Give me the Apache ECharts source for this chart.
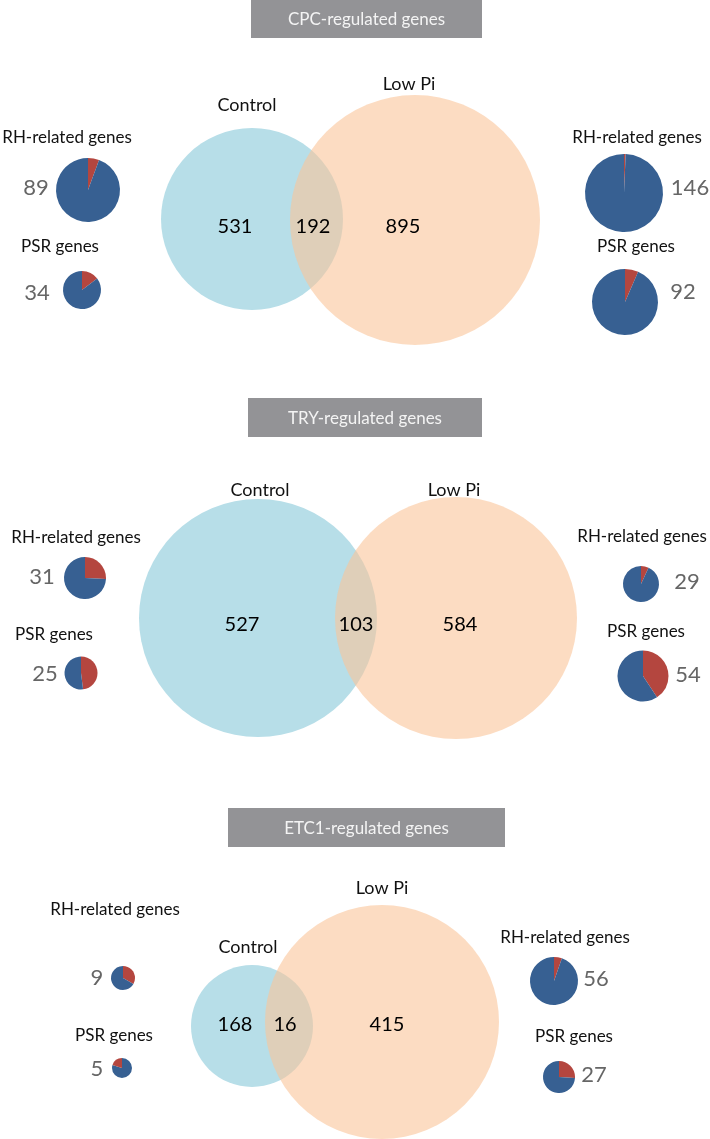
<!DOCTYPE html>
<html>
<head>
<meta charset="utf-8">
<script src="https://cdn.jsdelivr.net/npm/echarts@6/dist/echarts.min.js"></script>
<style>html,body{margin:0;padding:0;background:#fff}#c{width:710px;height:1139px}</style>
</head>
<body>
<div id="c"></div>
<script>
// ---- data ----
const panelTitles = ['CPC-regulated genes', 'TRY-regulated genes', 'ETC1-regulated genes'];
const setNames = ['Control', 'Low Pi'];
const controlOnly = [531, 527, 168];
const shared = [192, 103, 16];
const lowPiOnly = [895, 584, 415];
const pieNames = ['RH-related genes', 'PSR genes'];
// per panel: [Control RH, Control PSR, Low Pi RH, Low Pi PSR]
const pieTotals = [[89, 34, 146, 92], [31, 25, 29, 54], [9, 5, 56, 27]];
const pieRedPart = [[5, 5, 1, 6], [8, 12, 2, 22], [3, 1, 3, 7]];

// ---- layout (positions / sizes only) ----
const FONT = 'Lato, "Open Sans", sans-serif';
const layout = [
  { box: [251, 0, 231, 38],
    ctl: { c: [252, 219], r: 91 }, low: { c: [415, 220], r: 125 },
    ctlLabel: [247, 105], lowLabel: [409, 84],
    nums: [[235, 227], [313, 227], [403, 227]],
    pies: [
      { c: [88, 190], r: 32, num: [36, 188], name: [67, 138] },
      { c: [82, 290], r: 19, num: [37, 293], name: [60, 247] },
      { c: [624, 193], r: 39, num: [690, 188], name: [637, 138] },
      { c: [625, 302], r: 33, num: [683, 292], name: [636, 247] }
    ] },
  { box: [248, 398, 234, 39],
    ctl: { c: [258, 618], r: 119 }, low: { c: [456, 618], r: 121 },
    ctlLabel: [260, 490], lowLabel: [454, 490],
    nums: [[242, 625], [356, 625], [460, 625]],
    pies: [
      { c: [85, 578], r: 21, num: [42, 577], name: [76, 538] },
      { c: [81, 673], r: 16.5, num: [45, 674], name: [54, 635] },
      { c: [641, 584], r: 18, num: [687, 582], name: [642, 537] },
      { c: [643, 676], r: 25.5, num: [688, 675], name: [646, 632] }
    ] },
  { box: [228, 808, 277, 39],
    ctl: { c: [252, 1026], r: 61 }, low: { c: [382, 1022], r: 117 },
    ctlLabel: [248, 947], lowLabel: [382, 888],
    nums: [[235, 1025], [285, 1025], [387, 1025]],
    pies: [
      { c: [123, 978], r: 12, num: [97, 978], name: [115, 910] },
      { c: [122, 1068], r: 10, num: [97, 1069], name: [114, 1036], redLast: true },
      { c: [554, 981], r: 24, num: [596, 979], name: [565, 938] },
      { c: [559, 1077], r: 16, num: [594, 1075], name: [574, 1037] }
    ] }
];

const RED = '#b4463f', BLUE = '#376092';
const series = [];
const graphics = [];

// Venn circles
const circleData = [];
const numData = [];
layout.forEach((L, p) => {
  circleData.push({ value: [L.ctl.c[0], L.ctl.c[1]], symbolSize: L.ctl.r * 2, itemStyle: { color: '#b7dee8', opacity: 1 } });
  circleData.push({ value: [L.low.c[0], L.low.c[1]], symbolSize: L.low.r * 2, itemStyle: { color: '#fac599', opacity: 0.6 } });
  const vals = [controlOnly[p], shared[p], lowPiOnly[p]];
  vals.forEach((v, i) => numData.push({ value: [L.nums[i][0], L.nums[i][1], v] }));
});
series.push({
  type: 'scatter', symbol: 'circle', data: circleData, silent: true, z: 1,
  emphasis: { disabled: true }
});
series.push({
  type: 'scatter', symbol: 'circle', symbolSize: 1, itemStyle: { color: 'rgba(0,0,0,0)', opacity: 1 },
  data: numData, silent: true, z: 3, emphasis: { disabled: true },
  label: { show: true, position: 'inside', formatter: d => d.value[2], color: '#000000', opacity: 1,
    textBorderWidth: 0, fontSize: 20, fontFamily: FONT }
});

// Pies
layout.forEach((L, p) => {
  L.pies.forEach((P, k) => {
    const total = pieTotals[p][k], red = pieRedPart[p][k];
    const redItem = { name: 'red', value: red, itemStyle: { color: RED } };
    const blueItem = { name: 'blue', value: total - red, itemStyle: { color: BLUE } };
    series.push({
      type: 'pie', center: P.c, radius: P.r, startAngle: 90, clockwise: true,
      data: P.redLast ? [blueItem, redItem] : [redItem, blueItem],
      label: { show: false }, labelLine: { show: false }, silent: true,
      itemStyle: { borderWidth: 0 }, emphasis: { disabled: true }, z: 2
    });
    graphics.push({
      type: 'text', z: 10, style: { text: String(total), x: P.num[0], y: P.num[1], fill: '#666666',
        font: '22px ' + FONT, align: 'center', verticalAlign: 'middle', textAlign: 'center', textVerticalAlign: 'middle' }
    });
    graphics.push({
      type: 'text', z: 10, style: { text: pieNames[k % 2], x: P.name[0], y: P.name[1], fill: '#111',
        font: '17px ' + FONT, align: 'center', verticalAlign: 'middle', textAlign: 'center', textVerticalAlign: 'middle' }
    });
  });
  // title boxes
  graphics.push({ type: 'rect', z: 10, shape: { x: L.box[0], y: L.box[1], width: L.box[2], height: L.box[3] }, style: { fill: '#939396' } });
  graphics.push({
    type: 'text', z: 11, style: { text: panelTitles[p], x: L.box[0] + L.box[2] / 2, y: L.box[1] + L.box[3] / 2 + 1, fill: '#f4f4f4',
      font: '17px ' + FONT, align: 'center', verticalAlign: 'middle', textAlign: 'center', textVerticalAlign: 'middle' }
  });
  // set labels
  [L.ctlLabel, L.lowLabel].forEach((pos, i) => graphics.push({
    type: 'text', z: 10, style: { text: setNames[i], x: pos[0], y: pos[1], fill: '#111',
      font: '18px ' + FONT, align: 'center', verticalAlign: 'middle', textAlign: 'center', textVerticalAlign: 'middle' }
  }));
});

const chart = echarts.init(document.getElementById('c'), null, { renderer: 'canvas' });
chart.setOption({
  animation: false,
  backgroundColor: '#ffffff',
  grid: { left: 0, right: 0, top: 0, bottom: 0 },
  xAxis: { type: 'value', min: 0, max: 710, show: false },
  yAxis: { type: 'value', min: 0, max: 1139, inverse: true, show: false },
  series: series,
  graphic: { elements: graphics }
});
</script>
</body>
</html>
